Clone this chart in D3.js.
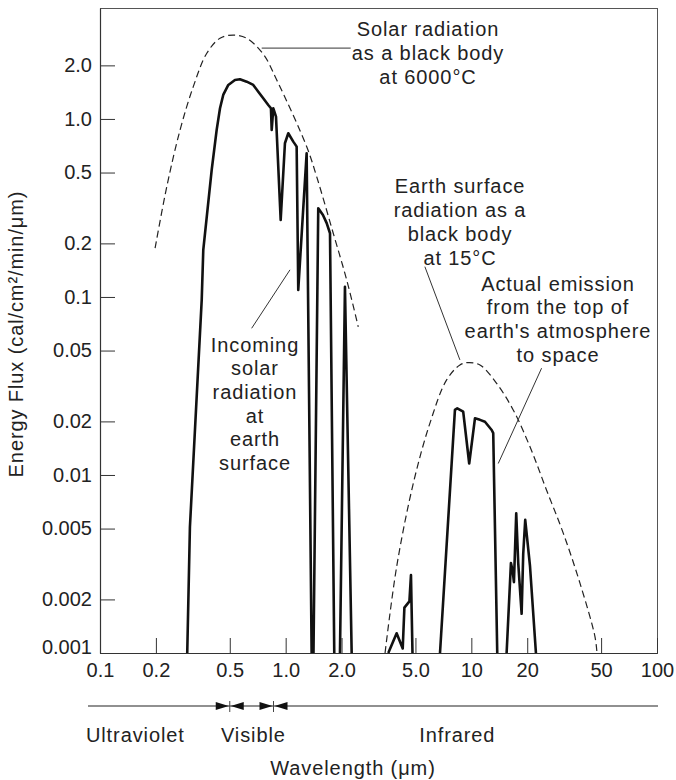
<!DOCTYPE html>
<html>
<head>
<meta charset="utf-8">
<script src="https://cdn.jsdelivr.net/npm/d3@7"></script>
<style>
  body { margin: 0; background: #fff; }
  svg { display: block; font-family: "Liberation Sans", Arial, sans-serif; }
  .axis text { font-size: 20px; fill: #222; }
  .axis line, .axis path { stroke: #333; }
  .note { font-size: 20px; fill: #222; letter-spacing: 0.9px; }
</style>
</head>
<body>
<svg class="chart"></svg>
<script>
var width = 676,
    height = 780;

// wavelength (um), energy flux (cal/cm2/min/um); null = break in the line
var solarBlackBody = [[0.198,0.188],[0.229,0.417],[0.270,0.868],[0.318,1.52],[0.376,2.34],[0.443,2.84],
    [0.522,2.96],[0.617,2.84],[0.76,2.3],[0.894,1.66],[1.297,0.70],[1.469,0.474],[1.804,0.228],
    [2.13,0.125],[2.46,0.068]];

var solarSurface = [[0.295,0.001],[0.305,0.0051],[0.353,0.096],[0.360,0.184],[0.3996,0.517],[0.425,0.868],
    [0.443,1.148],[0.461,1.364],[0.491,1.553],[0.533,1.656],[0.567,1.67],[0.617,1.62],[0.669,1.553],
    [0.712,1.423],[0.757,1.307],[0.806,1.198],[0.833,1.148],[0.841,0.868],[0.858,1.148],[0.887,1.03],
    [0.940,0.271],[0.991,0.730],[1.033,0.831],[1.099,0.746],[1.146,0.699],
    [1.169,0.1095],[1.297,0.642],[1.380,0.001], null,
    [1.412,0.001],[1.498,0.315],[1.588,0.289],[1.663,0.26],[1.733,0.228],[1.827,0.001], null,
    [1.961,0.001],[2.086,0.114],[2.267,0.001]];

var earthBlackBody = [[3.43,0.001],[3.96,0.00305],[4.87,0.00898],[5.98,0.0195],[7.36,0.0342],[8.68,0.0415],
    [9.62,0.0428],[11.13,0.0415],[13.68,0.0327],[16.81,0.0232],[20.7,0.0144],[25.4,0.00824],
    [31.3,0.0047],[38.5,0.00246],[46.3,0.00124],[47.5,0.001]];

var earthEmission = [[3.57,0.001],[3.96,0.00129],[4.27,0.00106],[4.36,0.0018],[4.64,0.00195],[4.73,0.00274],
    [4.82,0.001], null,
    [6.78,0.001],[8.16,0.0232],[8.40,0.0237],[9.04,0.0227],[9.74,0.0116],[10.46,0.0208],[11.13,0.0204],
    [11.84,0.0199],[12.87,0.0179],[13.12,0.0172],[13.79,0.001], null,
    [15.49,0.001],[16.34,0.0032],[16.69,0.0029],[16.96,0.0025],[17.45,0.0061],[17.89,0.0032],
    [18.66,0.00166],[19.03,0.0036],[19.51,0.0056],[20.69,0.0031],[22.28,0.001]];

var xTicks = [0.1, 0.2, 0.5, 1, 2, 5, 10, 20, 50, 100],
    xTickLabels = ["0.1", "0.2", "0.5", "1.0", "2.0", "5.0", "10", "20", "50", "100"];
var yTicks = [0.001, 0.002, 0.005, 0.01, 0.02, 0.05, 0.1, 0.2, 0.5, 1, 2],
    yTickLabels = ["0.001", "0.002", "0.005", "0.01", "0.02", "0.05", "0.1", "0.2", "0.5", "1.0", "2.0"];

var bandEdges = [0.5, 0.86],
    bandNames = ["Ultraviolet", "Visible", "Infrared"],
    bandLabelAt = [0.155, 0.67, 8.4];

var solarNote = ["Solar radiation", "as a black body", "at 6000°C"],
    surfaceNote = ["Incoming", "solar", "radiation", "at", "earth", "surface"],
    earthNote = ["Earth surface", "radiation as a", "black body", "at 15°C"],
    emissionNote = ["Actual emission", "from the top of", "earth's atmosphere", "to space"];

// leader lines, both ends in data units
var leaders = [
    [[0.743, 2.5], [2.24, 2.5]],
    [[0.656, 0.0667], [1.055, 0.142]],
    [[5.62, 0.148], [8.68, 0.0443]],
    [[23.9, 0.0398], [13.96, 0.0116]]
];

var margin = {left: 100, top: 8, right: 19, bottom: 127};

var svg = d3.select(".chart")
    .attr("width", width)
    .attr("height", height);

svg.append("rect").attr("width", width).attr("height", height).attr("fill", "#fff");

var x = d3.scaleLog()
    .domain([0.1, 100])
    .range([margin.left, width - margin.right]);

var y = d3.scaleLog()
    .domain([0.001, 4.2])
    .range([height - margin.bottom, margin.top]);

var line = d3.line()
    .defined((d) => d !== null)
    .x((d) => x(d[0]))
    .y((d) => y(d[1]));

// frame
svg.append("rect")
    .attr("x", x.range()[0] + 0.5)
    .attr("y", y.range()[1] + 0.5)
    .attr("width", x.range()[1] - x.range()[0])
    .attr("height", y.range()[0] - y.range()[1])
    .attr("fill", "none")
    .attr("stroke", "#555")
    .attr("stroke-width", 1);

var xAxis = svg.append("g")
    .attr("class", "axis")
    .attr("transform", "translate(0," + y.range()[0] + ")")
    .call(d3.axisBottom(x)
        .tickValues(xTicks)
        .tickFormat((d, i) => xTickLabels[i])
        .tickSize(-15)
        .tickSizeOuter(0)
        .tickPadding(10));

var yAxis = svg.append("g")
    .attr("class", "axis")
    .attr("transform", "translate(" + x.range()[0] + ",0)")
    .call(d3.axisLeft(y)
        .tickValues(yTicks)
        .tickFormat((d, i) => yTickLabels[i])
        .tickSize(-15)
        .tickSizeOuter(0)
        .tickPadding(8));

xAxis.selectAll("text").attr("font-size", 20).attr("font-family", "Liberation Sans, Arial");
yAxis.selectAll("text").attr("font-size", 20).attr("font-family", "Liberation Sans, Arial");
yAxis.selectAll(".tick").filter((d) => d === 0.001).select("text").attr("dy", "0.02em");
xAxis.select(".domain").attr("stroke-width", 1.2);
yAxis.select(".domain").attr("stroke-width", 1.2);

// curves
svg.append("path")
    .datum(solarBlackBody)
    .attr("d", line.curve(d3.curveCatmullRom))
    .attr("fill", "none")
    .attr("stroke", "#222")
    .attr("stroke-width", 1.2)
    .attr("stroke-dasharray", "7,4");

svg.append("path")
    .datum(earthBlackBody)
    .attr("d", line.curve(d3.curveCatmullRom))
    .attr("fill", "none")
    .attr("stroke", "#222")
    .attr("stroke-width", 1.2)
    .attr("stroke-dasharray", "7,4");

line.curve(d3.curveLinear);

svg.append("path")
    .datum(solarSurface)
    .attr("d", line)
    .attr("fill", "none")
    .attr("stroke", "#111")
    .attr("stroke-width", 2.6)
    .attr("stroke-linejoin", "round");

svg.append("path")
    .datum(earthEmission)
    .attr("d", line)
    .attr("fill", "none")
    .attr("stroke", "#111")
    .attr("stroke-width", 2.6)
    .attr("stroke-linejoin", "round");

// leaders
svg.selectAll(".leader")
    .data(leaders)
    .enter()
      .append("path")
      .attr("class", "leader")
      .attr("d", (d) => "M" + x(d[0][0]) + "," + y(d[0][1]) + "L" + x(d[1][0]) + "," + y(d[1][1]))
      .attr("stroke", "#333")
      .attr("stroke-width", 1);

function note(lines, cx, top, step) {
    svg.append("text")
        .attr("class", "note")
        .attr("text-anchor", "middle")
        .selectAll("tspan")
        .data(lines)
        .enter()
          .append("tspan")
          .attr("x", cx)
          .attr("y", (d, i) => top + i * step)
          .text((d) => d);
}

note(solarNote, 428, 36, 24);
note(surfaceNote, 255, 351.5, 23.7);
note(earthNote, 460, 192.5, 24.3);
note(emissionNote, 558, 290.5, 23.7);

// wavelength bands under the axis
var bandY = 706,
    bandLeft = x.range()[0] - 12,
    bandRight = x.range()[1] + 1;

svg.append("line")
    .attr("x1", bandLeft).attr("x2", bandRight)
    .attr("y1", bandY).attr("y2", bandY)
    .attr("stroke", "#222").attr("stroke-width", 1.2);

bandEdges.forEach(function(w) {
    var bx = x(w);
    svg.append("line")
        .attr("x1", bx).attr("x2", bx)
        .attr("y1", bandY - 5).attr("y2", bandY + 6)
        .attr("stroke", "#444").attr("stroke-width", 1);
    svg.append("path")
        .attr("d", "M" + (bx - 1) + "," + bandY + "l-13,-4v8z")
        .attr("fill", "#111");
    svg.append("path")
        .attr("d", "M" + (bx + 1) + "," + bandY + "l13,-4v8z")
        .attr("fill", "#111");
});

svg.selectAll(".band")
    .data(bandNames)
    .enter()
      .append("text")
      .attr("class", "note band")
      .attr("text-anchor", "middle")
      .attr("x", (d, i) => x(bandLabelAt[i]))
      .attr("y", 742)
      .text((d) => d);

svg.append("text")
    .attr("class", "note")
    .attr("text-anchor", "middle")
    .attr("x", 353)
    .attr("y", 775)
    .text("Wavelength (μm)");

svg.append("text")
    .attr("class", "note")
    .attr("text-anchor", "middle")
    .attr("transform", "translate(23,334) rotate(-90)")
    .text("Energy Flux (cal/cm²/min/μm)");
</script>
</body>
</html>
